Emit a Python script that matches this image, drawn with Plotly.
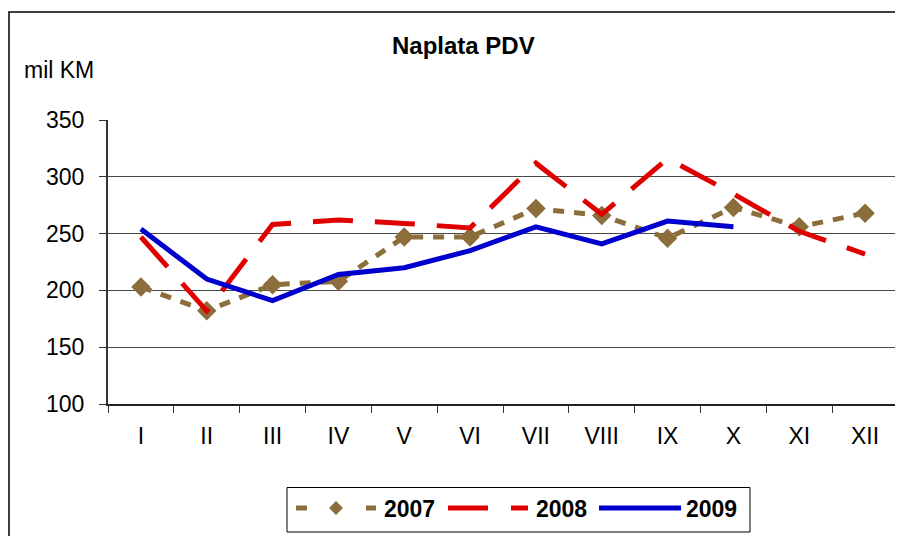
import plotly.graph_objects as go

months = ["I", "II", "III", "IV", "V", "VI", "VII", "VIII", "IX", "X", "XI", "XII"]
v2007 = [203, 182, 205, 208, 247, 247, 272, 266, 246, 273, 256, 268]
v2008 = [247, 182, 258, 262, 259, 255, 312, 267, 316, 285, 252, 232]
v2009 = [254, 210, 191, 214, 220, 235, 256, 241, 261, 256, None, None]
y_ticks = [100, 150, 200, 250, 300, 350]
series_names = ["2007", "2008", "2009"]
colors = ["#8C6E3C", "#E00000", "#0000CC"]

# page has an 8px body margin; page coords -> figure coords
OFF = 8
W, H = 903 - OFF, 536 - OFF
PL, PR, PT, PB = 108, 898, 120, 404  # plot area in page px
L, R, T, B = PL - OFF, W - (PR - OFF), PT - OFF, H - (PB - OFF)
pw, ph = W - L - R, H - T - B


def px(x):
    return (x - OFF - L) / pw


def py(y):
    return (H - B - (y - OFF)) / ph


FONT = "Liberation Sans, Arial, sans-serif"

fig = go.Figure()
fig.add_trace(go.Scatter(
    x=months, y=v2007, name=series_names[0], mode="lines+markers",
    line=dict(color=colors[0], width=5, dash="11px,10px"),
    marker=dict(symbol="diamond", size=15, color=colors[0]),
))
fig.add_trace(go.Scatter(
    x=months, y=v2008, name=series_names[1], mode="lines",
    line=dict(color=colors[1], width=5, dash="40px,22px"),
))
fig.add_trace(go.Scatter(
    x=months, y=v2009, name=series_names[2], mode="lines",
    line=dict(color=colors[2], width=5),
))

# manual legend (page coords)
ly = 508
shapes = [
    dict(type="line", xref="paper", yref="paper", x0=1, x1=1, y0=0, y1=1,
         line=dict(color="#808080", width=1.5)),
    dict(type="rect", xref="paper", yref="paper",
         x0=px(9), x1=px(910), y0=py(12), y1=py(545),
         line=dict(color="black", width=1.5), layer="below"),
    dict(type="rect", xref="paper", yref="paper",
         x0=px(287), x1=px(750), y0=py(487.5), y1=py(532),
         line=dict(color="black", width=1), fillcolor="white"),
    dict(type="line", xref="paper", yref="paper", x0=px(296), x1=px(307),
         y0=py(ly), y1=py(ly), line=dict(color=colors[0], width=5)),
    dict(type="line", xref="paper", yref="paper", x0=px(366), x1=px(376),
         y0=py(ly), y1=py(ly), line=dict(color=colors[0], width=5)),
    dict(type="path", xref="paper", yref="paper",
         path="M {} {} L {} {} L {} {} L {} {} Z".format(
             px(329), py(ly), px(336), py(ly - 7), px(343), py(ly), px(336), py(ly + 7)),
         fillcolor=colors[0], line=dict(color=colors[0], width=0)),
    dict(type="line", xref="paper", yref="paper", x0=px(448), x1=px(528),
         y0=py(ly), y1=py(ly), line=dict(color=colors[1], width=5, dash="40px,23px")),
    dict(type="line", xref="paper", yref="paper", x0=px(599), x1=px(681),
         y0=py(ly), y1=py(ly), line=dict(color=colors[2], width=5)),
]

annotations = [
    dict(text="mil KM", x=px(22), y=py(70), xref="paper", yref="paper",
         xanchor="left", yanchor="middle", showarrow=False,
         font=dict(size=23, family=FONT)),
    dict(text="<b>Naplata PDV</b>", x=px(463), y=py(45), xref="paper", yref="paper",
         xanchor="center", yanchor="middle", showarrow=False,
         font=dict(size=24, family=FONT)),
]
for name, xl in zip(series_names, [382, 534, 684]):
    annotations.append(dict(
        text="<b>" + name + "</b>", x=px(xl), y=py(ly + 1), xref="paper", yref="paper",
        xanchor="left", yanchor="middle", showarrow=False,
        font=dict(size=23, family=FONT)))

fig.update_layout(
    width=W, height=H,
    margin=dict(l=L, r=R, t=T, b=B),
    paper_bgcolor="white", plot_bgcolor="white",
    font=dict(family=FONT, size=23, color="black"),
    showlegend=False,
    xaxis=dict(
        type="category", range=[-0.5, 11.5],
        showline=True, linecolor="#222222", linewidth=2,
        ticks="outside", ticklen=7, tickcolor="#333333", tickson="boundaries",
        showgrid=False, tickfont=dict(size=23), ticklabelstandoff=10,
    ),
    yaxis=dict(
        range=[100, 350], tickvals=y_ticks,
        showline=True, linecolor="#333333", linewidth=2,
        ticks="outside", ticklen=7, tickcolor="#333333",
        showgrid=True, gridcolor="#4a4a4a", gridwidth=1,
        tickfont=dict(size=23), zeroline=False, ticklabelstandoff=10,
    ),
    annotations=annotations,
    shapes=shapes,
)

fig.write_html("out.html")
